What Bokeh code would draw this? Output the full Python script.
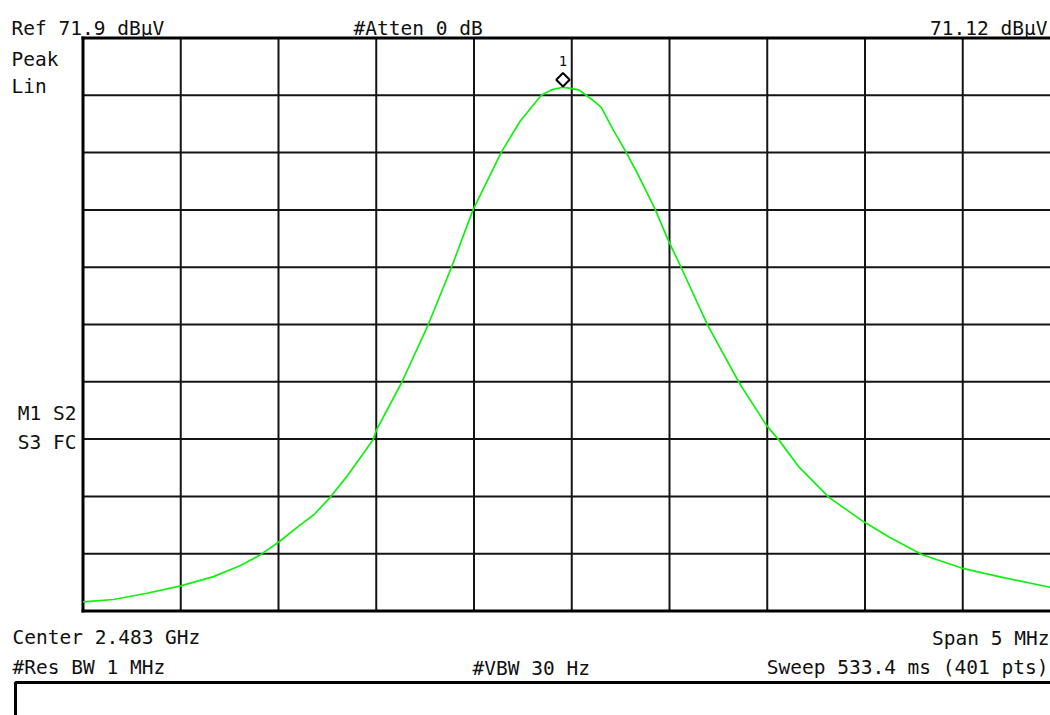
import numpy as np
from bokeh.plotting import figure
from bokeh.models import Label, PolyAnnotation, Range1d
from bokeh.embed import file_html
from bokeh.resources import INLINE

# ---- instrument settings ----
REF_DBUV = 71.9
MARKER_DBUV = 71.12
CENTER_GHZ = 2.483
SPAN_MHZ = 5.0
N_DIV = 10

# ---- trace: frequency (MHz) and linear amplitude (uV) ----
freq_mhz = [2480.500, 2480.656, 2480.827, 2481.000, 2481.167, 2481.303, 2481.405,
            2481.500, 2481.610, 2481.681, 2481.763, 2481.848, 2481.984, 2482.000, 2482.129,
            2482.265, 2482.385, 2482.495, 2482.640, 2482.737, 2482.844, 2482.900,
            2482.955, 2482.997, 2483.039, 2483.074, 2483.120, 2483.151, 2483.210,
            2483.278, 2483.346, 2483.428, 2483.491, 2483.559, 2483.695, 2483.857,
            2483.996, 2484.058, 2484.163, 2484.317, 2484.492, 2484.623, 2484.793,
            2484.994, 2485.185, 2485.440, 2485.500]
amp_uv = [63, 79, 122, 173, 236, 311, 384,
          472, 590, 661, 779, 921, 1177, 1240, 1566,
          1964, 2361, 2755, 3152, 3365, 3542, 3581,
          3597, 3590, 3577, 3542, 3495, 3459, 3310,
          3152, 2979, 2755, 2554, 2361, 1964, 1566,
          1275, 1177, 988, 779, 614, 508, 386,
          295, 236, 165, 157]

# ---- texts ----
top_left = ["Ref 71.9 dB\u03bcV", "Peak", "Lin"]
top_mid = "#Atten 0 dB"
top_right = "71.12 dB\u03bcV"
side = ["M1 S2", "S3 FC"]
bottom_left = ["Center 2.483 GHz", "#Res BW 1 MHz"]
bottom_mid = "#VBW 30 Hz"
bottom_right = ["Span 5 MHz", "Sweep 533.4 ms (401 pts)"]

# ---- derived scales ----
ref_uv = 10 ** (REF_DBUV / 20.0)
f_start = CENTER_GHZ * 1000 - SPAN_MHZ / 2
f_stop = CENTER_GHZ * 1000 + SPAN_MHZ / 2
div_f = SPAN_MHZ / N_DIV
div_a = ref_uv / N_DIV

W, H = 1050, 715
GRID_LEFT, GRID_TOP, GRID_BOTTOM = 82.5, 37.5, 610.5   # graticule edges on the canvas (px)
PX_PER_DIV_X = 97.75
mhz_per_px = div_f / PX_PER_DIV_X
uv_per_px = ref_uv / (GRID_BOTTOM - GRID_TOP)
x0 = f_start - GRID_LEFT * mhz_per_px
x1 = x0 + W * mhz_per_px
y0 = -(H - GRID_BOTTOM) * uv_per_px
y1 = ref_uv + GRID_TOP * uv_per_px

p = figure(width=W, height=H, output_backend="svg", toolbar_location=None,
           x_axis_location=None, y_axis_location=None,
           x_range=Range1d(x0, x1), y_range=Range1d(y0, y1), min_border=0)
p.outline_line_color = None
p.background_fill_color = "white"
p.border_fill_color = "white"
p.xgrid.visible = False
p.ygrid.visible = False

GRID_COL = "#141414"
# graticule: 10 x 10 divisions
vx = [f_start + k * div_f for k in range(1, N_DIV + 1)]
p.segment(x0=vx, y0=[0] * len(vx), x1=vx, y1=[ref_uv] * len(vx), line_color=GRID_COL, line_width=2)
hy = [k * div_a for k in range(1, N_DIV)]
p.segment(x0=[f_start] * len(hy), y0=hy, x1=[f_stop] * len(hy), y1=hy, line_color=GRID_COL, line_width=2)
# heavier border (left, top, bottom)
p.segment(x0=[f_start, f_start, f_start], y0=[0, ref_uv, 0],
          x1=[f_start, f_stop, f_stop], y1=[ref_uv, ref_uv, 0],
          line_color="black", line_width=3, line_cap="square")

# trace
p.line(freq_mhz, amp_uv, line_color="#10f010", line_width=1.7, line_join="round")

# marker 1 at the peak
ipk = int(np.argmax(amp_uv))
p.scatter([freq_mhz[ipk]], [amp_uv[ipk] + 7.5 * uv_per_px], marker="square", angle=np.pi / 4,
          size=9.5, line_color="black", line_width=2, fill_color="white")
p.add_layout(Label(x=freq_mhz[ipk], y=amp_uv[ipk], y_offset=21, text="1", text_align="center",
                   text_font="DejaVu Sans Mono", text_font_size="14px", text_color="#111"))

FONT = "DejaVu Sans Mono"
FS = "19.5px"


def lab(x_page, y_page, text, align="left"):
    # screen units: measured from the canvas' bottom-left corner
    p.add_layout(Label(x=x_page, y=H - y_page, x_units="screen", y_units="screen",
                       text=text, text_align=align, text_baseline="alphabetic", text_font=FONT,
                       text_font_size=FS, text_color="#111"))


lab(11, 28, top_left[0])
lab(11, 59, top_left[1])
lab(11, 86, top_left[2])
lab(353, 28, top_mid)
lab(1047, 28, top_right, "right")
lab(76, 413, side[0], "right")
lab(76, 442, side[1], "right")
lab(12, 637, bottom_left[0])
lab(12, 667, bottom_left[1])
lab(472, 668, bottom_mid)
lab(1049, 638, bottom_right[0], "right")
lab(1048, 667, bottom_right[1], "right")

# empty message box under the annotations
by = H - 682
p.add_layout(PolyAnnotation(xs=[15, 1300, 1300, 15], ys=[by, by, -300, -300],
                            xs_units="screen", ys_units="screen",
                            fill_color=None, line_color="black", line_alpha=1.0, line_width=3))

open("out.html", "w").write(file_html(p, INLINE))
